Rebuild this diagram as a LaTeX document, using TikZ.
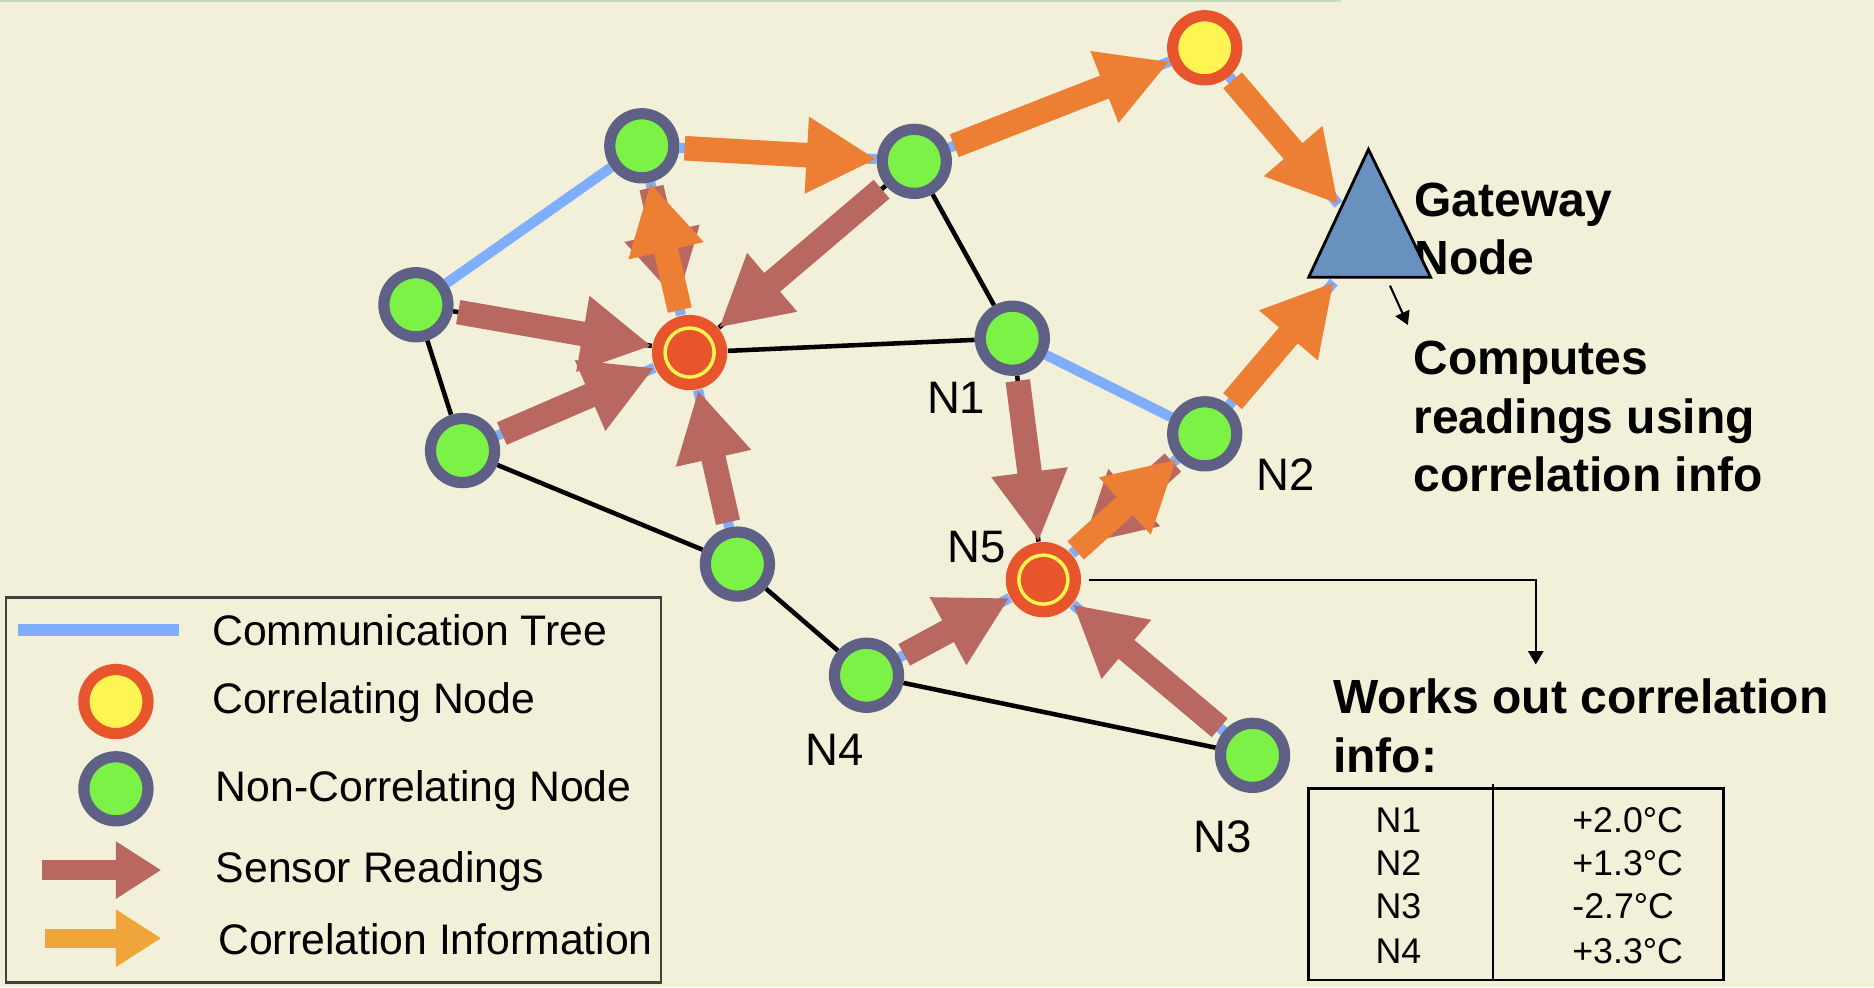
\documentclass[tikz,border=0pt]{standalone}
\usepackage{fontspec}
\setmainfont{Liberation Sans}
\usetikzlibrary{arrows.meta}
\tikzset{>={Triangle[length=20pt,width=20.5pt]}}

\definecolor{paper}{RGB}{242,240,216}
\definecolor{rim}{RGB}{200,218,190}
\definecolor{leafgreen}{RGB}{125,242,70}
\definecolor{ringgrey}{RGB}{94,97,133}
\definecolor{corrred}{RGB}{232,84,44}
\definecolor{corryellow}{RGB}{255,245,82}
\definecolor{treeblue}{RGB}{128,174,255}
\definecolor{readred}{RGB}{184,104,97}
\definecolor{infoorange}{RGB}{236,127,52}
\definecolor{keyorange}{RGB}{240,165,58}
\definecolor{gateblue}{RGB}{104,145,192}

\pgfdeclarelayer{paper}
\pgfdeclarelayer{links}
\pgfsetlayers{paper,links,main}

\tikzset{
  plainnode/.style={circle,draw=ringgrey,fill=leafgreen,line width=3.2pt,
    minimum size=18.3pt,inner sep=0pt},
  corrnode/.style={circle,draw=corrred,fill=corryellow,line width=3.2pt,
    minimum size=18.3pt,inner sep=0pt},
  hubnode/.style={circle,fill=corrred,minimum size=21.5pt,inner sep=0pt,
    path picture={\draw[corryellow,line width=1pt]
      (path picture bounding box.center) circle (7pt);}},
  nlabel/.style={font=\fontsize{13}{15}\selectfont,inner sep=0pt},
  keytext/.style={font=\fontsize{12.2}{14}\selectfont,inner sep=0pt,anchor=base west},
  celltext/.style={font=\fontsize{10.2}{12}\selectfont,inner sep=0pt},
  note/.style={font=\bfseries\fontsize{13.7}{16.6}\selectfont,inner sep=0pt,
    align=left,anchor=base west},
  pointer/.style={draw=black,line width=0.6pt,-{Triangle[length=3.8pt,width=4.3pt]}}
}

\begin{document}
\begin{tikzpicture}[x=0.012cm,y=-0.012cm]
\useasboundingbox (0,0) rectangle (1568,826);
\begin{pgfonlayer}{paper}
\fill[paper] (0,0) rectangle (1568,826);
\draw[rim,line width=0.6pt] (0,1) -- (1122,1);
\end{pgfonlayer}

% sensor field
\begin{scope}[every node/.style=plainnode]
\node (G1) at (537,122) {};
\node (G2) at (765,135) {};
\node (G3) at (348,255) {};
\node (N1) at (847,283) {};
\node (G4) at (387,377) {};
\node (N2) at (1008,363) {};
\node (G5) at (617,472) {};
\node (N4) at (725,565) {};
\node (N3) at (1048,632) {};
\end{scope}
\node[corrnode] (Y1) at (1008,40) {};
\begin{scope}[every node/.style=hubnode]
\node (C1) at (577,295) {};
\node (N5) at (873,485) {};
\end{scope}

\coordinate (gwL) at (1120,171);
\coordinate (gwB) at (1116,236);
\coordinate (gwS) at (1163,239);
\coordinate (gwE) at (1178,272);
\coordinate (wtip) at (1285,556);

\begin{pgfonlayer}{links}
\begin{scope}[every edge/.style={draw=treeblue,line width=2.9pt}]
    \path (G3) edge (G1);
    \path (G1) edge (C1);
    \path (G1) edge (G2);
    \path (G2) edge (Y1);
    \path (Y1) edge (gwL);
    \path (N2) edge (gwB);
    \path (N1) edge (N2);
    \path (N2) edge (N5);
    \path (N5) edge (N4);
    \path (N5) edge (N3);
    \path (C1) edge (G5);
    \path (C1) edge (G4);
\end{scope}
\begin{scope}[every edge/.style={draw=black,line width=1.3pt}]
    \path (G3) edge (G4);
    \path (G4) edge (G5);
    \path (G5) edge (N4);
    \path (N4) edge (N3);
    \path (C1) edge (N1);
    \path (G2) edge (N1);
    \path (N1) edge (N5);
    \path (G3) edge (C1);
    \path (G2) edge (C1);
\end{scope}
\end{pgfonlayer}

% readings and correlation info
\begin{scope}[every edge/.style={draw,line width=7pt,shorten <=1.5pt}]
    \path [->] (G1) edge [readred,shorten >=4pt] (C1);
    \path [->] (N2) edge [readred,shorten >=4pt] (N5);
    \path [->] (G3) edge [readred] (C1);
    \path [->] (G4) edge [readred] (C1);
    \path [->] (G5) edge [readred] (C1);
    \path [->] (G2) edge [readred] (C1);
    \path [->] (N1) edge [readred] (N5);
    \path [->] (N4) edge [readred] (N5);
    \path [->] (N3) edge [readred] (N5);

    \path [->] (C1) edge [infoorange] (G1);
    \path [->] (G1) edge [infoorange] (G2);
    \path [->] (G2) edge [infoorange] (Y1);
    \path [->] (Y1) edge [infoorange] (gwL);
    \path [->] (N5) edge [infoorange] (N2);
    \path [->] (N2) edge [infoorange] (gwB);
\end{scope}

\node[nlabel] (lN1) at (800,333) {N1};
\node[nlabel] (lN2) at (1076,397) {N2};
\node[nlabel] (lN5) at (817,458) {N5};
\node[nlabel] (lN4) at (698,627) {N4};
\node[nlabel] (lN3) at (1023,700) {N3};

\node[note] (gwtext) at (1183,230) {Gateway\\Node};
\node[note] (compute) at (1182,411) {Computes\\readings using\\correlation info};
\node[note] (works) at (1115,646) {Works out correlation\\info:};

% gateway node
\draw[fill=gateblue,line width=0.8pt] (1145,125) -- (1095,232) -- (1197,232) -- cycle;
\draw[pointer] (gwS) -- (gwE);
\draw[pointer,shorten <=2pt] (N5) -| (wtip);

% correlation table
\draw[line width=0.8pt] (1095,660) rectangle (1442,820);
\draw[line width=0.5pt] (1249,656) -- (1249,820);
\begin{scope}[every node/.style=celltext]
\node (t1) at (1170,686) {N1};
\node (t2) at (1170,722) {N2};
\node (t3) at (1170,758) {N3};
\node (t4) at (1170,796) {N4};
\node[anchor=west] (v1) at (1315,686) {+2.0°C};
\node[anchor=west] (v2) at (1315,722) {+1.3°C};
\node[anchor=west] (v3) at (1315,758) {-2.7°C};
\node[anchor=west] (v4) at (1315,796) {+3.3°C};
\end{scope}

% legend
\draw[line width=0.7pt,draw=black!75] (5,500) rectangle (553,822);
\coordinate (k1a) at (15,527);
\coordinate (k1b) at (150,527);
\draw[treeblue,line width=3.6pt] (k1a) -- (k1b);
\node[corrnode] (k2) at (97,587) {};
\node[plainnode] (k3) at (97,660) {};
\coordinate (k4a) at (35,728);
\coordinate (k4b) at (135,728);
\draw[readred,line width=5.5pt,-{Triangle[length=13pt,width=15.5pt]}] (k4a) -- (k4b);
\coordinate (k5a) at (38,785);
\coordinate (k5b) at (135,785);
\draw[keyorange,line width=5.5pt,-{Triangle[length=13pt,width=15.5pt]}] (k5a) -- (k5b);
\node[keytext] (kt1) at (177,540) {Communication Tree};
\node[keytext] (kt2) at (177,597) {Correlating Node};
\node[keytext] (kt3) at (180,671) {Non-Correlating Node};
\node[keytext] (kt4) at (180,738) {Sensor Readings};
\node[keytext] (kt5) at (182,799) {Correlation Information};
\end{tikzpicture}
\end{document}
